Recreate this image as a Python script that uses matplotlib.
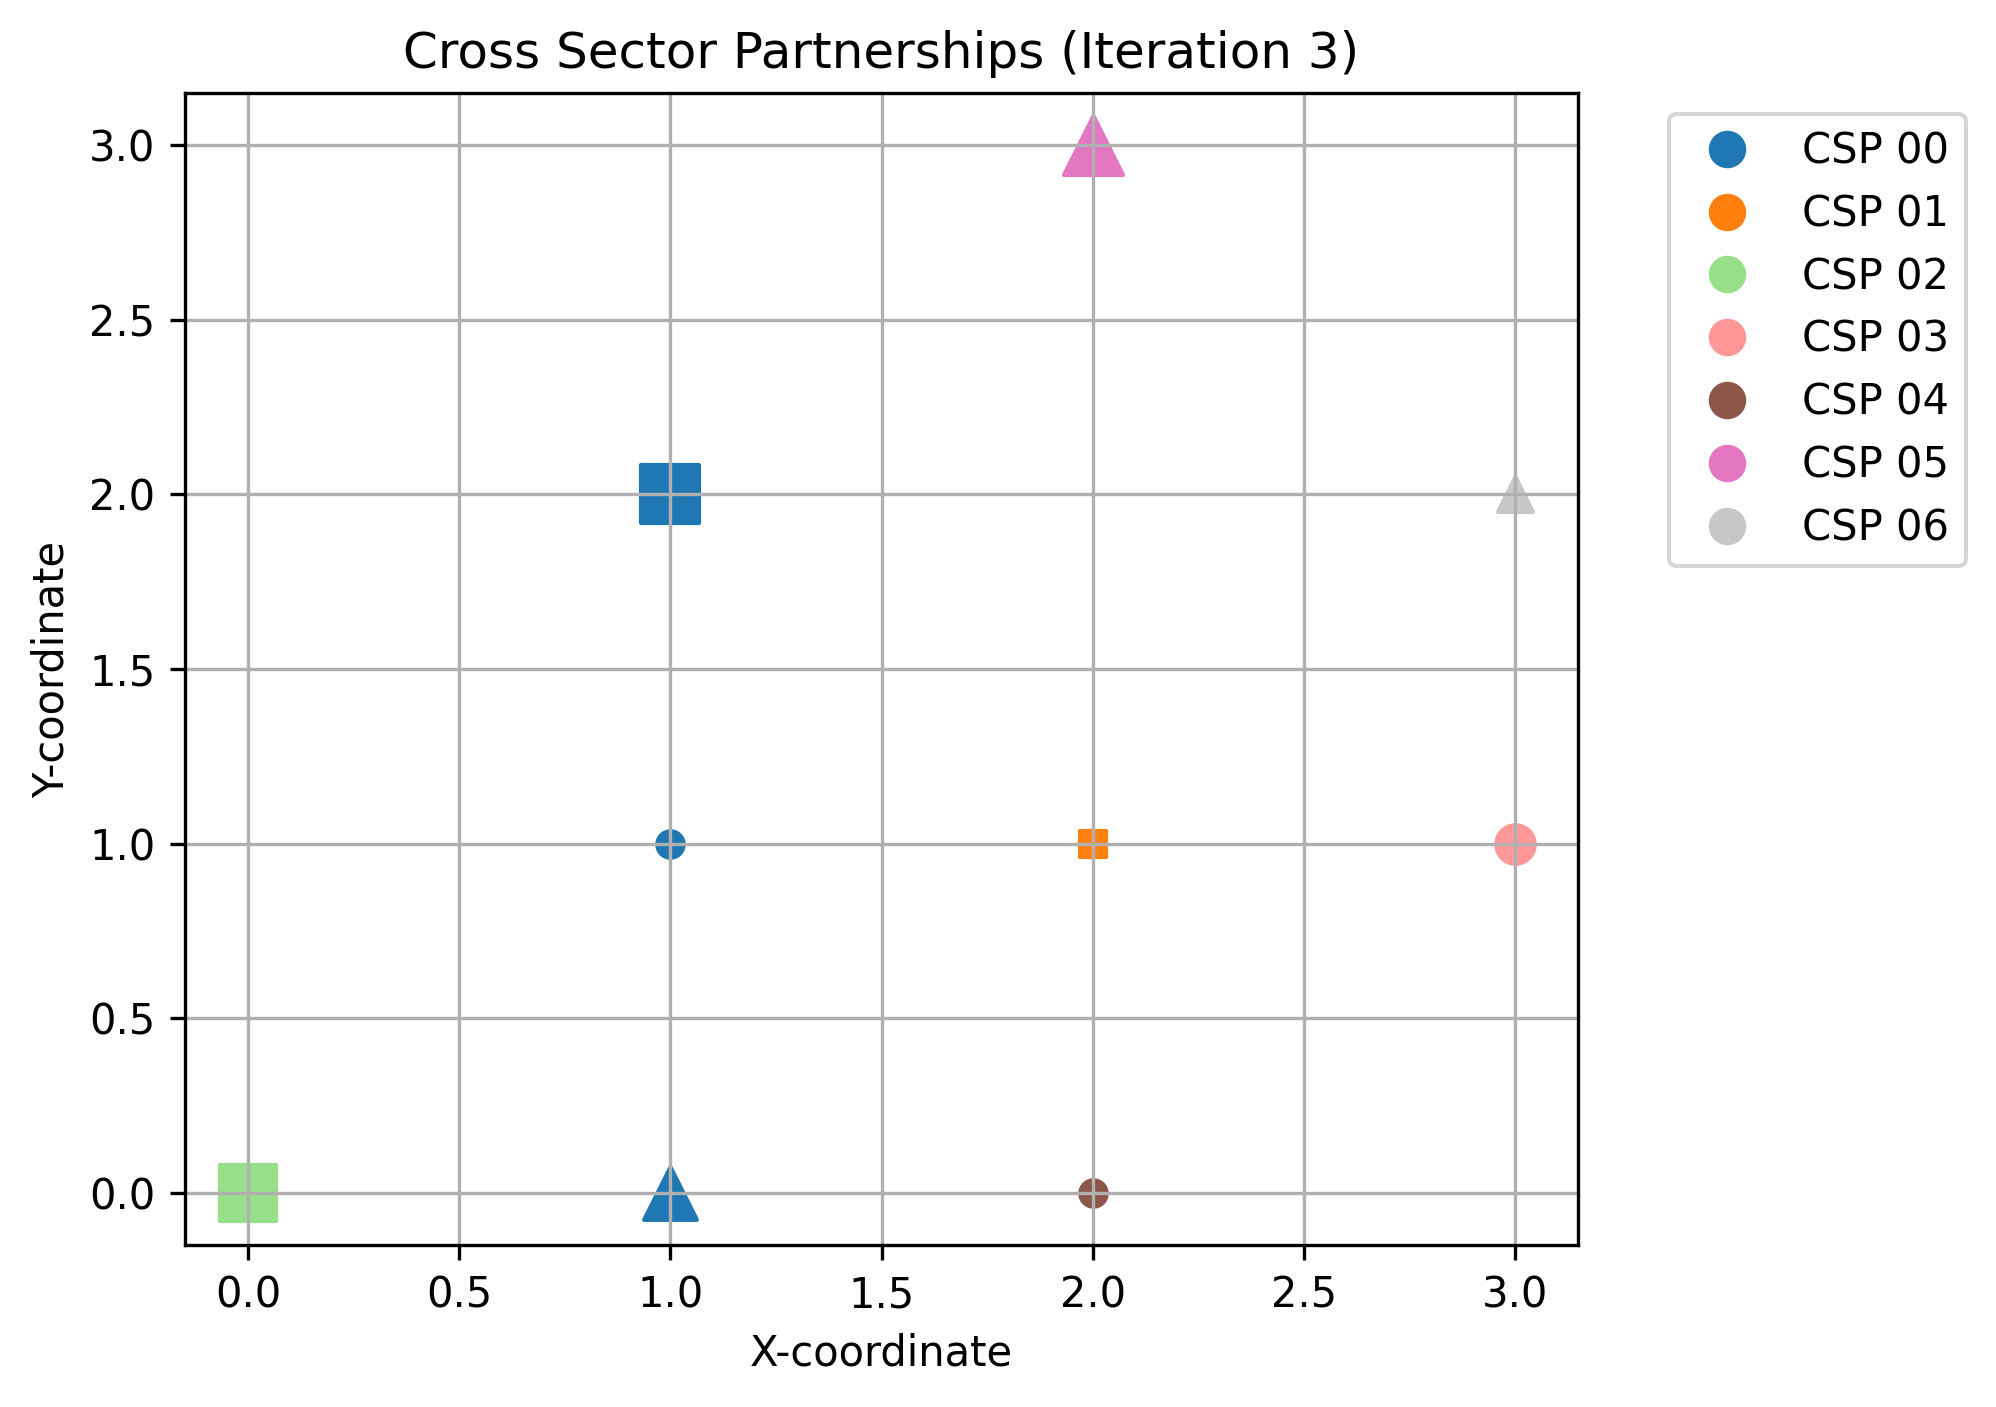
import matplotlib
matplotlib.use("Agg")
import matplotlib.pyplot as plt
from matplotlib.lines import Line2D

# partnership points: position, owning CSP, marker and size
xs = [1, 1, 1, 2, 0, 3, 2, 2, 3]
ys = [2, 1, 0, 1, 0, 1, 0, 3, 2]
owner = [0, 0, 0, 1, 2, 3, 4, 5, 6]
markers = ['s', 'o', '^', 's', 's', 'o', 'o', '^', '^']
sizes = [200, 40, 160, 40, 180, 85, 40, 200, 70]

labels = ['CSP 00', 'CSP 01', 'CSP 02', 'CSP 03', 'CSP 04', 'CSP 05', 'CSP 06']
colors = ['#1f77b4', '#ff7f0e', '#98df8a', '#ff9896', '#8c564b', '#e377c2', '#c7c7c7']

fig = plt.figure(figsize=(1996 / 300, 1407 / 300), dpi=300)
ax = fig.add_axes([0.0925, 0.1151, 0.6983, 0.8189])

for x, y, o, m, s in zip(xs, ys, owner, markers, sizes):
    ax.scatter(x, y, color=colors[o], marker=m, s=s)

handles = [Line2D([0], [0], marker='o', color='w', markerfacecolor=c, markersize=10)
           for c in colors]
ax.legend(handles, labels, bbox_to_anchor=(1.05, 1), loc='upper left')

ax.set_title('Cross Sector Partnerships (Iteration 3)')
ax.set_xlabel('X-coordinate')
ax.set_ylabel('Y-coordinate')
ax.grid(True)

fig.savefig('out.png', dpi=300)
